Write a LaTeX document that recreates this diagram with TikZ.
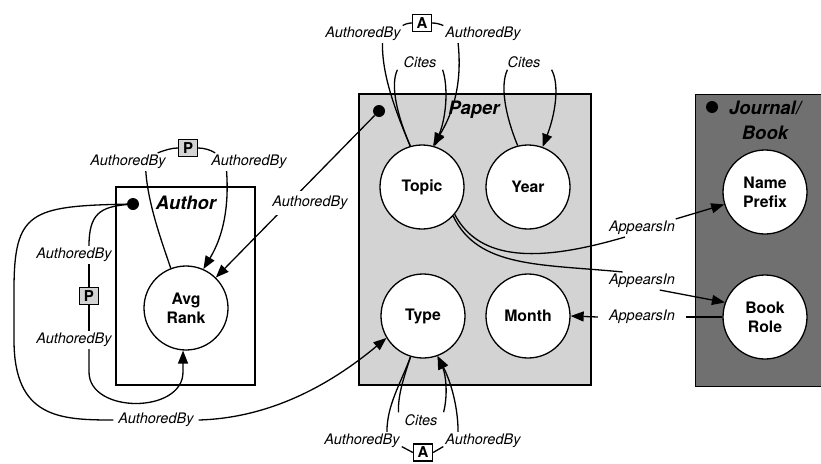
\documentclass[tikz,border=0pt]{standalone}
\usepackage{fontspec}
\setmainfont{TeX Gyre Heros}
\usetikzlibrary{arrows.meta}
\newcommand\dgLab{\itshape\fontsize{14.5}{16}\selectfont}
\newcommand\dgNode{\bfseries\fontsize{15.8}{19}\selectfont}
\newcommand\dgTitle{\bfseries\itshape\fontsize{18.5}{25}\selectfont}
\newcommand\dgTag{\bfseries\fontsize{15}{17}\selectfont}
\definecolor{paperfill}{RGB}{211,211,211}
\definecolor{journalfill}{RGB}{112,112,112}
\tikzset{
  circ/.style={circle, draw, line width=1.3pt, fill=white, minimum size=84pt, inner sep=0pt, align=center, font=\dgNode},
  lab/.style={font=\dgLab, fill=white, inner xsep=2pt, inner ysep=2pt},
  conn/.style={line width=1.3pt},
  arr/.style={conn, -{Triangle[length=13pt,width=10pt]}},
  dot/.style={circle, fill=black, minimum size=12pt, inner sep=0pt},
  ttl/.style={font=\dgTitle},
  regionbox/.style={draw, line width=1.4pt, inner sep=0pt},
  tagbox/.style={draw, line width=1.3pt, minimum width=19pt, minimum height=17pt, inner sep=0pt, font=\dgTag},
}
\begin{document}
\begin{tikzpicture}[x=1pt,y=-1pt]
\useasboundingbox (0,0) rectangle (821,463);
% regions
\node[regionbox, fill=white, minimum width=139pt, minimum height=198pt] (authorbox) at (185.5,286) {};
\node[regionbox, fill=paperfill, minimum width=232pt, minimum height=291pt] (paperbox) at (475,239.5) {};
\node[regionbox, fill=journalfill, minimum width=130pt, minimum height=292pt, anchor=north west] (journalbox) at (695,94) {};
% titles
\node[ttl] (authort) at (186,203) {Author};
\node[ttl] (papert) at (474,110) {Paper};
\node[ttl, align=center] (journalt) at (765,120.5) {Journal/\\Book};
% key dots
\node[dot] (adot) at (133,204) {};
\node[dot] (pdot) at (379,111) {};
\node[dot] (jdot) at (712,107) {};
% attribute circles
\node[circ] (avg) at (186,308) {Avg\\Rank};
\node[circ] (topic) at (422,187) {Topic};
\node[circ] (year) at (528,187) {Year};
\node[circ] (type) at (423,316) {Type};
\node[circ] (month) at (528,316) {Month};
\node[circ] (name) at (765,192) {Name\\Prefix};
\node[circ] (book) at (765,317) {Book\\Role};
% aggregation tags
\node[tagbox, fill=paperfill] (ptop) at (188,148) {P};
\node[tagbox, fill=paperfill] (pleft) at (89,296) {P};
\node[tagbox, fill=white] (atop) at (422,23) {A};
\node[tagbox, fill=white] (abot) at (423,452.5) {A};
% labels
\node[lab] (lP1L) at (128,162) {AuthoredBy};
\node[lab] (lP1R) at (249,162) {AuthoredBy};
\node[lab] (lL1) at (74,255) {AuthoredBy};
\node[lab] (lL2) at (74,340) {AuthoredBy};
\node[lab, inner xsep=5pt] (lB) at (156,420) {AuthoredBy};
\node[lab] (lA1L) at (363,34) {AuthoredBy};
\node[lab] (lA1R) at (483,34) {AuthoredBy};
\node[lab, inner xsep=6pt] (lC1) at (420,62) {Cites};
\node[lab, inner xsep=6pt] (lC2) at (524,62) {Cites};
\node[lab, inner xsep=6pt] (lC3) at (421,420) {Cites};
\node[lab] (lA2L) at (362,441) {AuthoredBy};
\node[lab] (lA2R) at (483,441) {AuthoredBy};
\node[lab] (lAp1) at (642,228) {AppearsIn};
\node[lab] (lAp2) at (642,281) {AppearsIn};
\node[lab, inner xsep=11pt] (lAp3) at (642,317) {AppearsIn};
% Author key -> Type (outer loop)
\draw[conn] (adot) .. controls (30,206) and (14,212) .. (14,290) -- (14,340) .. controls (14,418) and (60,420) .. (lB.west);
\draw[arr] (lB.east) .. controls (270,418) and (330,385) .. (type.211);
% Author key -> Avg Rank (through P)
\draw[conn] (adot) .. controls (100,207) and (89,214) .. (lL1.north -| pleft);
\draw[conn] (lL1.south -| pleft) -- (pleft.north);
\draw[conn] (pleft.south) -- (lL2.north -| pleft);
\draw[arr] (lL2.south -| pleft) -- (89,372) .. controls (89,414) and (183,414) .. (183,372) -- (avg.266);
% Avg Rank self loop through P
\draw[conn] (avg.111) .. controls (163,245) and (148,205) .. (lP1L.-27);
\draw[conn] (lP1L.17) .. controls (165,150) and (172,148) .. (ptop.west);
\draw[conn] (ptop.east) .. controls (204,148) and (211,150) .. (lP1R.165);
\draw[arr] (lP1R.-158) .. controls (229,205) and (224,235) .. (avg.66);
% Paper key -> Avg Rank
\draw[arr] (pdot) -- (avg);
\node[lab, inner ysep=5pt] (lPD) at (310,203) {AuthoredBy};
% Topic self loops
\draw[conn] (topic.106) .. controls (395,110) and (382,75) .. (lA1L.-25);
\draw[conn] (lA1L.12) .. controls (405,24) and (409,23) .. (atop.west);
\draw[conn] (atop.east) .. controls (436,23) and (440,24) .. (lA1R.168);
\draw[arr] (lA1R.-160) .. controls (462,80) and (455,110) .. (topic.75);
\draw[conn] (topic.106) .. controls (397,115) and (390,85) .. (lC1.south west);
\draw[arr] (lC1.south east) .. controls (448,85) and (447,115) .. (topic.73);
% Year self loop
\draw[conn] (year.104) .. controls (505,115) and (500,85) .. ([xshift=6pt]lC2.south west);
\draw[arr] ([xshift=5pt]lC2.south east) .. controls (560,85) and (555,115) .. (year.70);
% Type self loops
\draw[conn] (type.253) .. controls (403,380) and (398,395) .. (lC3.north west);
\draw[conn] (type.253) .. controls (400,385) and (387,405) .. (lA2L.20);
\draw[arr] (lC3.north east) .. controls (448,395) and (446,375) .. (type.290);
\draw[arr] (lA2R.160) .. controls (458,405) and (450,380) .. (type.290);
\draw[conn] (lA2L.-8) -- (abot.west);
\draw[conn] (abot.east) -- (lA2R.188);
% AppearsIn
\draw[conn] (topic.-40) .. controls (480,262) and (540,262) .. (lAp1.-152);
\draw[arr] (lAp1.15) -- (name.197);
\draw[conn] (topic.-43) .. controls (478,268) and (540,264) .. (lAp2.155);
\draw[arr] (lAp2.-27) -- (book.160);
\draw[conn] (book.west) -- (lAp3.east);
\draw[arr] (lAp3.west) -- (month.east);
\end{tikzpicture}
\end{document}
